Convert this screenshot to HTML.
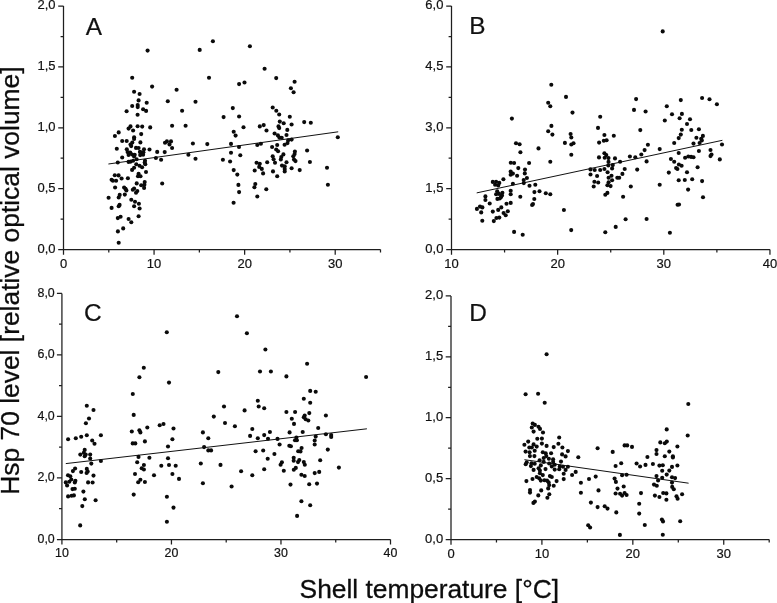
<!DOCTYPE html>
<html><head><meta charset="utf-8"><title>Hsp 70 level vs shell temperature</title>
<style>
html,body{margin:0;padding:0;background:#fff;}
body{width:777px;height:603px;overflow:hidden;}
svg{display:block;font-family:"Liberation Sans",sans-serif;will-change:transform;}
</style></head>
<body>
<svg width="777" height="603" viewBox="0 0 777 603">
<rect width="777" height="603" fill="#fff"/>
<g fill="none" stroke="#1e1e1e" stroke-width="1.25">
<path d="M63.5 6.07V254.8M58.2 249.5H380.5" />
<path d="M63.5 219.07h-2.9M63.5 188.64h-5.3M63.5 158.21h-2.9M63.5 127.78h-5.3M63.5 97.36h-2.9M63.5 66.93h-5.3M63.5 36.50h-2.9M63.5 6.07h-5.3M108.79 249.5v2.9M154.07 249.5v5.3M199.36 249.5v2.9M244.64 249.5v5.3M289.93 249.5v2.9M335.21 249.5v5.3M380.50 249.5v2.9" />
<path d="M451.5 6.07V254.8M446.2 249.5H769.95" />
<path d="M451.5 219.07h-2.9M451.5 188.64h-5.3M451.5 158.21h-2.9M451.5 127.78h-5.3M451.5 97.36h-2.9M451.5 66.93h-5.3M451.5 36.50h-2.9M451.5 6.07h-5.3M504.57 249.5v2.9M557.65 249.5v5.3M610.73 249.5v2.9M663.80 249.5v5.3M716.88 249.5v2.9M769.95 249.5v5.3" />
<path d="M61.92 293.43V544.5M56.92 539.5H390.5" />
<path d="M61.92 508.74h-2.9M61.92 477.98h-5.0M61.92 447.22h-2.9M61.92 416.47h-5.0M61.92 385.71h-2.9M61.92 354.95h-5.0M61.92 324.19h-2.9M61.92 293.43h-5.0M116.68 539.5v2.9M171.45 539.5v5.0M226.21 539.5v2.9M280.97 539.5v5.0M335.74 539.5v2.9M390.50 539.5v5.0" />
<path d="M451.0 295.94V544.8M445.7 539.5H769.2" />
<path d="M451.0 509.06h-2.9M451.0 478.61h-5.3M451.0 448.16h-2.9M451.0 417.72h-5.3M451.0 387.27h-2.9M451.0 356.83h-5.3M451.0 326.38h-2.9M451.0 295.94h-5.3M496.46 539.5v2.9M541.91 539.5v5.3M587.37 539.5v2.9M632.83 539.5v5.3M678.29 539.5v2.9M723.74 539.5v5.3M769.20 539.5v2.9" />
</g>
<g fill="none" stroke="#111" stroke-width="1.0">
<path d="M108.4 164L338.2 131.8M476.7 192.9L722.4 140.3M65.8 463.6L366.9 428.8M524.4 459.7L688.6 483.2" />
</g>
<g fill="#111" stroke="#111" stroke-width="0.2">
<g font-size="13.4">
<text transform="translate(55.60 252.70) scale(0.97 1)" text-anchor="end">0,0</text>
<text transform="translate(55.60 191.84) scale(0.97 1)" text-anchor="end">0,5</text>
<text transform="translate(55.60 130.98) scale(0.97 1)" text-anchor="end">1,0</text>
<text transform="translate(55.60 70.13) scale(0.97 1)" text-anchor="end">1,5</text>
<text transform="translate(55.60 9.27) scale(0.97 1)" text-anchor="end">2,0</text>
<text transform="translate(63.50 268.30) scale(0.97 1)" text-anchor="middle">0</text>
<text transform="translate(154.07 268.30) scale(0.97 1)" text-anchor="middle">10</text>
<text transform="translate(244.64 268.30) scale(0.97 1)" text-anchor="middle">20</text>
<text transform="translate(335.21 268.30) scale(0.97 1)" text-anchor="middle">30</text>
</g>
<text x="85.7" y="35.05" font-size="24.4">A</text>
<g font-size="13.4">
<text transform="translate(443.40 252.70) scale(0.97 1)" text-anchor="end">0,0</text>
<text transform="translate(443.40 191.84) scale(0.97 1)" text-anchor="end">1,5</text>
<text transform="translate(443.40 130.98) scale(0.97 1)" text-anchor="end">3,0</text>
<text transform="translate(443.40 70.13) scale(0.97 1)" text-anchor="end">4,5</text>
<text transform="translate(443.40 9.27) scale(0.97 1)" text-anchor="end">6,0</text>
<text transform="translate(451.50 268.30) scale(0.97 1)" text-anchor="middle">10</text>
<text transform="translate(557.65 268.30) scale(0.97 1)" text-anchor="middle">20</text>
<text transform="translate(663.80 268.30) scale(0.97 1)" text-anchor="middle">30</text>
<text transform="translate(769.95 268.30) scale(0.97 1)" text-anchor="middle">40</text>
</g>
<text x="469.3" y="34.15" font-size="24.4">B</text>
<g font-size="12.4">
<text transform="translate(54.72 542.95) scale(1 1)" text-anchor="end">0,0</text>
<text transform="translate(54.72 481.43) scale(1 1)" text-anchor="end">2,0</text>
<text transform="translate(54.72 419.92) scale(1 1)" text-anchor="end">4,0</text>
<text transform="translate(54.72 358.40) scale(1 1)" text-anchor="end">6,0</text>
<text transform="translate(54.72 296.88) scale(1 1)" text-anchor="end">8,0</text>
<text transform="translate(61.92 556.70) scale(1 1)" text-anchor="middle">10</text>
<text transform="translate(171.45 556.70) scale(1 1)" text-anchor="middle">20</text>
<text transform="translate(280.97 556.70) scale(1 1)" text-anchor="middle">30</text>
<text transform="translate(390.50 556.70) scale(1 1)" text-anchor="middle">40</text>
</g>
<text x="84.1" y="320.85" font-size="24.4">C</text>
<g font-size="13.4">
<text transform="translate(443.15 542.70) scale(0.97 1)" text-anchor="end">0,0</text>
<text transform="translate(443.15 481.81) scale(0.97 1)" text-anchor="end">0,5</text>
<text transform="translate(443.15 420.92) scale(0.97 1)" text-anchor="end">1,0</text>
<text transform="translate(443.15 360.03) scale(0.97 1)" text-anchor="end">1,5</text>
<text transform="translate(443.15 299.14) scale(0.97 1)" text-anchor="end">2,0</text>
<text transform="translate(451.00 558.30) scale(0.97 1)" text-anchor="middle">0</text>
<text transform="translate(541.91 558.30) scale(0.97 1)" text-anchor="middle">10</text>
<text transform="translate(632.83 558.30) scale(0.97 1)" text-anchor="middle">20</text>
<text transform="translate(723.74 558.30) scale(0.97 1)" text-anchor="middle">30</text>
</g>
<text x="469.35" y="321.15" font-size="24.4">D</text>
</g>
<g fill="#0c0c0c" stroke="#0c0c0c" stroke-width="0.3">
<text x="429.3" y="597.7" text-anchor="middle" font-size="26.35">Shell temperature [°C]</text>
<text transform="translate(18.9 280.6) rotate(-90)" text-anchor="middle" font-size="26.4">Hsp 70 level [relative optical volume]</text>
</g>
<g fill="#0a0a0a">
<circle cx="147.6" cy="50.6" r="2.05"/><circle cx="199.7" cy="49.9" r="2.05"/><circle cx="132.2" cy="77.7" r="2.05"/><circle cx="152.1" cy="86.6" r="2.05"/><circle cx="176.6" cy="89.8" r="2.05"/><circle cx="134.1" cy="91.8" r="2.05"/><circle cx="139.6" cy="94.0" r="2.05"/><circle cx="138.6" cy="100.4" r="2.05"/><circle cx="212.9" cy="41.2" r="2.05"/><circle cx="249.9" cy="46.3" r="2.05"/><circle cx="264.6" cy="68.7" r="2.05"/><circle cx="209.0" cy="77.7" r="2.05"/><circle cx="276.2" cy="78.1" r="2.05"/><circle cx="244.5" cy="82.5" r="2.05"/><circle cx="239.1" cy="84.1" r="2.05"/><circle cx="294.6" cy="81.7" r="2.05"/><circle cx="290.9" cy="88.3" r="2.05"/><circle cx="293.6" cy="92.3" r="2.05"/><circle cx="146.7" cy="102.8" r="2.05"/><circle cx="167.8" cy="101.3" r="2.05"/><circle cx="195.5" cy="101.8" r="2.05"/><circle cx="132.2" cy="106.0" r="2.05"/><circle cx="137.7" cy="105.1" r="2.05"/><circle cx="137.7" cy="107.1" r="2.05"/><circle cx="143.1" cy="109.3" r="2.05"/><circle cx="146.1" cy="110.9" r="2.05"/><circle cx="126.6" cy="111.3" r="2.05"/><circle cx="137.6" cy="114.8" r="2.05"/><circle cx="182.1" cy="110.8" r="2.05"/><circle cx="172.1" cy="125.7" r="2.05"/><circle cx="185.6" cy="125.7" r="2.05"/><circle cx="130.5" cy="126.4" r="2.05"/><circle cx="128.6" cy="128.6" r="2.05"/><circle cx="137.6" cy="126.3" r="2.05"/><circle cx="142.2" cy="126.6" r="2.05"/><circle cx="150.2" cy="127.4" r="2.05"/><circle cx="133.1" cy="130.5" r="2.05"/><circle cx="118.7" cy="132.4" r="2.05"/><circle cx="114.9" cy="136.0" r="2.05"/><circle cx="141.2" cy="134.1" r="2.05"/><circle cx="134.1" cy="137.3" r="2.05"/><circle cx="134.1" cy="139.0" r="2.05"/><circle cx="165.0" cy="142.7" r="2.05"/><circle cx="166.9" cy="141.4" r="2.05"/><circle cx="171.0" cy="141.4" r="2.05"/><circle cx="169.5" cy="144.4" r="2.05"/><circle cx="172.1" cy="148.0" r="2.05"/><circle cx="192.9" cy="143.5" r="2.05"/><circle cx="164.7" cy="152.1" r="2.05"/><circle cx="188.4" cy="154.7" r="2.05"/><circle cx="195.5" cy="158.8" r="2.05"/><circle cx="161.1" cy="159.8" r="2.05"/><circle cx="122.2" cy="141.0" r="2.05"/><circle cx="126.7" cy="141.0" r="2.05"/><circle cx="140.4" cy="142.4" r="2.05"/><circle cx="132.3" cy="142.6" r="2.05"/><circle cx="130.5" cy="144.5" r="2.05"/><circle cx="131.2" cy="146.1" r="2.05"/><circle cx="116.8" cy="148.8" r="2.05"/><circle cx="126.8" cy="149.3" r="2.05"/><circle cx="136.0" cy="147.9" r="2.05"/><circle cx="138.6" cy="148.0" r="2.05"/><circle cx="144.0" cy="149.3" r="2.05"/><circle cx="149.5" cy="149.5" r="2.05"/><circle cx="157.2" cy="151.9" r="2.05"/><circle cx="127.6" cy="152.1" r="2.05"/><circle cx="130.2" cy="152.5" r="2.05"/><circle cx="128.6" cy="154.9" r="2.05"/><circle cx="132.1" cy="154.5" r="2.05"/><circle cx="134.7" cy="154.7" r="2.05"/><circle cx="134.1" cy="156.4" r="2.05"/><circle cx="139.9" cy="151.9" r="2.05"/><circle cx="141.5" cy="152.5" r="2.05"/><circle cx="143.4" cy="152.2" r="2.05"/><circle cx="140.2" cy="155.1" r="2.05"/><circle cx="143.1" cy="154.8" r="2.05"/><circle cx="122.2" cy="157.5" r="2.05"/><circle cx="136.6" cy="159.3" r="2.05"/><circle cx="155.9" cy="158.0" r="2.05"/><circle cx="117.8" cy="162.5" r="2.05"/><circle cx="128.6" cy="161.9" r="2.05"/><circle cx="130.7" cy="161.6" r="2.05"/><circle cx="133.1" cy="160.7" r="2.05"/><circle cx="145.0" cy="160.7" r="2.05"/><circle cx="144.7" cy="162.5" r="2.05"/><circle cx="145.3" cy="164.3" r="2.05"/><circle cx="136.3" cy="164.3" r="2.05"/><circle cx="139.5" cy="165.7" r="2.05"/><circle cx="142.1" cy="167.3" r="2.05"/><circle cx="134.1" cy="167.7" r="2.05"/><circle cx="132.1" cy="169.9" r="2.05"/><circle cx="146.0" cy="172.0" r="2.05"/><circle cx="138.6" cy="173.8" r="2.05"/><circle cx="114.8" cy="175.2" r="2.05"/><circle cx="118.6" cy="175.4" r="2.05"/><circle cx="232.8" cy="108.1" r="2.05"/><circle cx="223.6" cy="117.1" r="2.05"/><circle cx="239.1" cy="116.5" r="2.05"/><circle cx="272.7" cy="107.5" r="2.05"/><circle cx="276.3" cy="110.7" r="2.05"/><circle cx="279.2" cy="114.5" r="2.05"/><circle cx="289.8" cy="116.7" r="2.05"/><circle cx="279.8" cy="121.6" r="2.05"/><circle cx="283.7" cy="123.2" r="2.05"/><circle cx="278.5" cy="126.4" r="2.05"/><circle cx="279.2" cy="128.1" r="2.05"/><circle cx="291.6" cy="124.5" r="2.05"/><circle cx="243.5" cy="127.3" r="2.05"/><circle cx="259.8" cy="126.4" r="2.05"/><circle cx="263.7" cy="125.1" r="2.05"/><circle cx="266.5" cy="130.5" r="2.05"/><circle cx="287.3" cy="129.9" r="2.05"/><circle cx="233.7" cy="131.8" r="2.05"/><circle cx="235.6" cy="135.6" r="2.05"/><circle cx="274.6" cy="133.5" r="2.05"/><circle cx="277.9" cy="135.4" r="2.05"/><circle cx="286.5" cy="135.0" r="2.05"/><circle cx="279.4" cy="137.6" r="2.05"/><circle cx="281.7" cy="137.7" r="2.05"/><circle cx="207.3" cy="144.1" r="2.05"/><circle cx="231.0" cy="143.9" r="2.05"/><circle cx="288.2" cy="140.3" r="2.05"/><circle cx="291.6" cy="139.6" r="2.05"/><circle cx="287.5" cy="143.1" r="2.05"/><circle cx="284.6" cy="144.7" r="2.05"/><circle cx="277.2" cy="145.0" r="2.05"/><circle cx="239.0" cy="147.0" r="2.05"/><circle cx="257.3" cy="145.0" r="2.05"/><circle cx="260.9" cy="143.8" r="2.05"/><circle cx="272.1" cy="147.0" r="2.05"/><circle cx="276.2" cy="149.5" r="2.05"/><circle cx="278.1" cy="151.2" r="2.05"/><circle cx="294.9" cy="151.5" r="2.05"/><circle cx="231.0" cy="152.8" r="2.05"/><circle cx="240.3" cy="155.3" r="2.05"/><circle cx="272.7" cy="156.2" r="2.05"/><circle cx="273.6" cy="159.2" r="2.05"/><circle cx="283.4" cy="154.4" r="2.05"/><circle cx="281.3" cy="157.0" r="2.05"/><circle cx="280.8" cy="159.5" r="2.05"/><circle cx="293.3" cy="156.2" r="2.05"/><circle cx="294.6" cy="154.1" r="2.05"/><circle cx="294.0" cy="159.6" r="2.05"/><circle cx="295.5" cy="161.1" r="2.05"/><circle cx="222.9" cy="159.8" r="2.05"/><circle cx="230.1" cy="161.5" r="2.05"/><circle cx="256.6" cy="162.7" r="2.05"/><circle cx="259.8" cy="163.7" r="2.05"/><circle cx="267.2" cy="162.2" r="2.05"/><circle cx="275.0" cy="162.7" r="2.05"/><circle cx="286.5" cy="162.2" r="2.05"/><circle cx="282.0" cy="165.6" r="2.05"/><circle cx="284.7" cy="166.3" r="2.05"/><circle cx="259.2" cy="166.9" r="2.05"/><circle cx="261.8" cy="168.9" r="2.05"/><circle cx="284.7" cy="168.9" r="2.05"/><circle cx="291.6" cy="168.2" r="2.05"/><circle cx="233.7" cy="170.1" r="2.05"/><circle cx="254.7" cy="170.5" r="2.05"/><circle cx="273.0" cy="171.4" r="2.05"/><circle cx="284.7" cy="171.4" r="2.05"/><circle cx="263.1" cy="173.4" r="2.05"/><circle cx="237.3" cy="174.6" r="2.05"/><circle cx="299.7" cy="170.1" r="2.05"/><circle cx="304.2" cy="122.1" r="2.05"/><circle cx="310.8" cy="122.8" r="2.05"/><circle cx="337.8" cy="137.2" r="2.05"/><circle cx="307.1" cy="150.5" r="2.05"/><circle cx="309.9" cy="162.0" r="2.05"/><circle cx="327.0" cy="167.8" r="2.05"/><circle cx="121.6" cy="178.5" r="2.05"/><circle cx="127.9" cy="178.2" r="2.05"/><circle cx="138.0" cy="176.3" r="2.05"/><circle cx="140.5" cy="176.3" r="2.05"/><circle cx="111.6" cy="179.8" r="2.05"/><circle cx="112.9" cy="180.8" r="2.05"/><circle cx="116.1" cy="180.8" r="2.05"/><circle cx="136.7" cy="183.4" r="2.05"/><circle cx="144.7" cy="182.1" r="2.05"/><circle cx="162.2" cy="183.5" r="2.05"/><circle cx="141.2" cy="185.3" r="2.05"/><circle cx="144.4" cy="184.7" r="2.05"/><circle cx="115.1" cy="187.5" r="2.05"/><circle cx="124.1" cy="187.5" r="2.05"/><circle cx="125.5" cy="188.9" r="2.05"/><circle cx="126.4" cy="190.4" r="2.05"/><circle cx="144.1" cy="187.9" r="2.05"/><circle cx="134.1" cy="188.5" r="2.05"/><circle cx="132.8" cy="189.8" r="2.05"/><circle cx="137.3" cy="191.1" r="2.05"/><circle cx="136.0" cy="192.8" r="2.05"/><circle cx="124.8" cy="194.6" r="2.05"/><circle cx="119.7" cy="194.9" r="2.05"/><circle cx="118.7" cy="197.5" r="2.05"/><circle cx="108.6" cy="197.8" r="2.05"/><circle cx="131.3" cy="199.8" r="2.05"/><circle cx="135.0" cy="201.8" r="2.05"/><circle cx="138.9" cy="203.7" r="2.05"/><circle cx="119.6" cy="204.9" r="2.05"/><circle cx="118.7" cy="206.3" r="2.05"/><circle cx="134.1" cy="206.3" r="2.05"/><circle cx="111.6" cy="207.9" r="2.05"/><circle cx="139.6" cy="208.5" r="2.05"/><circle cx="138.6" cy="216.2" r="2.05"/><circle cx="120.6" cy="216.8" r="2.05"/><circle cx="117.8" cy="218.1" r="2.05"/><circle cx="128.6" cy="219.0" r="2.05"/><circle cx="131.3" cy="222.2" r="2.05"/><circle cx="123.2" cy="228.4" r="2.05"/><circle cx="117.9" cy="231.4" r="2.05"/><circle cx="118.7" cy="242.8" r="2.05"/><circle cx="277.2" cy="176.3" r="2.05"/><circle cx="238.4" cy="184.9" r="2.05"/><circle cx="255.3" cy="184.0" r="2.05"/><circle cx="254.4" cy="187.2" r="2.05"/><circle cx="266.3" cy="189.2" r="2.05"/><circle cx="239.1" cy="192.1" r="2.05"/><circle cx="257.3" cy="196.5" r="2.05"/><circle cx="233.6" cy="202.8" r="2.05"/><circle cx="327.9" cy="184.7" r="2.05"/><circle cx="551.3" cy="84.8" r="2.05"/><circle cx="662.7" cy="31.4" r="2.05"/><circle cx="548.2" cy="102.7" r="2.05"/><circle cx="550.3" cy="106.2" r="2.05"/><circle cx="511.9" cy="118.6" r="2.05"/><circle cx="551.4" cy="125.9" r="2.05"/><circle cx="548.2" cy="131.3" r="2.05"/><circle cx="552.4" cy="134.6" r="2.05"/><circle cx="516.0" cy="143.3" r="2.05"/><circle cx="519.6" cy="144.3" r="2.05"/><circle cx="538.5" cy="148.4" r="2.05"/><circle cx="520.4" cy="152.3" r="2.05"/><circle cx="510.8" cy="162.8" r="2.05"/><circle cx="514.1" cy="163.0" r="2.05"/><circle cx="529.1" cy="163.0" r="2.05"/><circle cx="550.3" cy="161.8" r="2.05"/><circle cx="518.3" cy="168.1" r="2.05"/><circle cx="525.0" cy="169.6" r="2.05"/><circle cx="566.0" cy="96.9" r="2.05"/><circle cx="636.1" cy="99.1" r="2.05"/><circle cx="572.5" cy="112.6" r="2.05"/><circle cx="634.0" cy="109.9" r="2.05"/><circle cx="645.6" cy="111.5" r="2.05"/><circle cx="600.2" cy="116.8" r="2.05"/><circle cx="598.0" cy="127.9" r="2.05"/><circle cx="640.3" cy="130.1" r="2.05"/><circle cx="570.6" cy="134.0" r="2.05"/><circle cx="571.3" cy="137.5" r="2.05"/><circle cx="604.4" cy="135.0" r="2.05"/><circle cx="613.8" cy="135.7" r="2.05"/><circle cx="603.8" cy="140.7" r="2.05"/><circle cx="606.6" cy="140.3" r="2.05"/><circle cx="564.9" cy="142.9" r="2.05"/><circle cx="573.5" cy="143.3" r="2.05"/><circle cx="571.3" cy="144.5" r="2.05"/><circle cx="599.1" cy="142.6" r="2.05"/><circle cx="647.9" cy="144.8" r="2.05"/><circle cx="659.7" cy="149.1" r="2.05"/><circle cx="644.6" cy="150.1" r="2.05"/><circle cx="571.3" cy="154.7" r="2.05"/><circle cx="604.4" cy="153.3" r="2.05"/><circle cx="606.3" cy="155.1" r="2.05"/><circle cx="641.3" cy="154.5" r="2.05"/><circle cx="599.0" cy="157.4" r="2.05"/><circle cx="604.7" cy="157.8" r="2.05"/><circle cx="608.5" cy="158.1" r="2.05"/><circle cx="615.0" cy="158.4" r="2.05"/><circle cx="629.9" cy="156.5" r="2.05"/><circle cx="635.3" cy="157.2" r="2.05"/><circle cx="608.5" cy="161.9" r="2.05"/><circle cx="620.1" cy="161.7" r="2.05"/><circle cx="646.6" cy="161.4" r="2.05"/><circle cx="608.3" cy="165.5" r="2.05"/><circle cx="612.8" cy="165.1" r="2.05"/><circle cx="590.5" cy="169.4" r="2.05"/><circle cx="594.7" cy="170.0" r="2.05"/><circle cx="600.2" cy="170.0" r="2.05"/><circle cx="604.4" cy="169.0" r="2.05"/><circle cx="612.1" cy="168.4" r="2.05"/><circle cx="624.7" cy="169.0" r="2.05"/><circle cx="637.2" cy="169.6" r="2.05"/><circle cx="680.8" cy="100.1" r="2.05"/><circle cx="702.1" cy="98.0" r="2.05"/><circle cx="709.5" cy="99.2" r="2.05"/><circle cx="716.9" cy="104.3" r="2.05"/><circle cx="666.8" cy="106.2" r="2.05"/><circle cx="672.0" cy="114.3" r="2.05"/><circle cx="681.9" cy="113.9" r="2.05"/><circle cx="679.6" cy="118.3" r="2.05"/><circle cx="690.0" cy="119.2" r="2.05"/><circle cx="664.8" cy="120.5" r="2.05"/><circle cx="687.0" cy="124.0" r="2.05"/><circle cx="681.8" cy="129.7" r="2.05"/><circle cx="691.3" cy="130.0" r="2.05"/><circle cx="698.9" cy="129.2" r="2.05"/><circle cx="680.8" cy="134.6" r="2.05"/><circle cx="678.7" cy="138.1" r="2.05"/><circle cx="702.9" cy="135.9" r="2.05"/><circle cx="696.4" cy="137.7" r="2.05"/><circle cx="701.2" cy="138.8" r="2.05"/><circle cx="701.8" cy="140.4" r="2.05"/><circle cx="674.2" cy="143.0" r="2.05"/><circle cx="693.5" cy="143.6" r="2.05"/><circle cx="699.6" cy="143.0" r="2.05"/><circle cx="722.0" cy="144.5" r="2.05"/><circle cx="678.7" cy="153.0" r="2.05"/><circle cx="698.9" cy="151.0" r="2.05"/><circle cx="710.5" cy="150.0" r="2.05"/><circle cx="711.5" cy="154.5" r="2.05"/><circle cx="710.5" cy="156.1" r="2.05"/><circle cx="685.1" cy="157.7" r="2.05"/><circle cx="688.3" cy="156.5" r="2.05"/><circle cx="691.1" cy="156.9" r="2.05"/><circle cx="693.5" cy="157.2" r="2.05"/><circle cx="670.9" cy="159.0" r="2.05"/><circle cx="674.2" cy="161.7" r="2.05"/><circle cx="719.8" cy="159.4" r="2.05"/><circle cx="678.9" cy="164.5" r="2.05"/><circle cx="681.6" cy="165.8" r="2.05"/><circle cx="676.1" cy="168.0" r="2.05"/><circle cx="677.4" cy="169.0" r="2.05"/><circle cx="697.6" cy="167.3" r="2.05"/><circle cx="524.8" cy="173.4" r="2.05"/><circle cx="510.7" cy="171.5" r="2.05"/><circle cx="512.9" cy="173.6" r="2.05"/><circle cx="510.7" cy="174.8" r="2.05"/><circle cx="517.1" cy="175.7" r="2.05"/><circle cx="526.9" cy="178.0" r="2.05"/><circle cx="523.7" cy="180.0" r="2.05"/><circle cx="523.8" cy="183.1" r="2.05"/><circle cx="503.4" cy="179.3" r="2.05"/><circle cx="492.8" cy="181.9" r="2.05"/><circle cx="496.1" cy="181.7" r="2.05"/><circle cx="499.3" cy="182.9" r="2.05"/><circle cx="495.1" cy="184.8" r="2.05"/><circle cx="498.2" cy="185.4" r="2.05"/><circle cx="512.9" cy="183.8" r="2.05"/><circle cx="529.5" cy="185.8" r="2.05"/><circle cx="497.2" cy="191.2" r="2.05"/><circle cx="496.1" cy="194.3" r="2.05"/><circle cx="499.0" cy="193.9" r="2.05"/><circle cx="502.4" cy="192.7" r="2.05"/><circle cx="502.0" cy="195.4" r="2.05"/><circle cx="500.9" cy="197.3" r="2.05"/><circle cx="497.4" cy="198.9" r="2.05"/><circle cx="499.7" cy="198.5" r="2.05"/><circle cx="510.7" cy="190.8" r="2.05"/><circle cx="510.7" cy="194.3" r="2.05"/><circle cx="520.3" cy="196.7" r="2.05"/><circle cx="485.4" cy="196.4" r="2.05"/><circle cx="485.4" cy="200.0" r="2.05"/><circle cx="489.7" cy="203.5" r="2.05"/><circle cx="510.7" cy="202.9" r="2.05"/><circle cx="506.5" cy="203.8" r="2.05"/><circle cx="480.0" cy="206.6" r="2.05"/><circle cx="482.4" cy="207.4" r="2.05"/><circle cx="476.9" cy="208.9" r="2.05"/><circle cx="501.3" cy="207.4" r="2.05"/><circle cx="498.2" cy="209.9" r="2.05"/><circle cx="492.8" cy="211.6" r="2.05"/><circle cx="481.2" cy="212.4" r="2.05"/><circle cx="507.8" cy="211.2" r="2.05"/><circle cx="503.6" cy="213.0" r="2.05"/><circle cx="535.3" cy="184.7" r="2.05"/><circle cx="534.4" cy="192.1" r="2.05"/><circle cx="539.5" cy="191.2" r="2.05"/><circle cx="545.8" cy="193.2" r="2.05"/><circle cx="550.3" cy="194.2" r="2.05"/><circle cx="534.3" cy="199.0" r="2.05"/><circle cx="533.0" cy="204.1" r="2.05"/><circle cx="532.1" cy="205.0" r="2.05"/><circle cx="505.7" cy="215.3" r="2.05"/><circle cx="496.4" cy="218.0" r="2.05"/><circle cx="499.3" cy="217.6" r="2.05"/><circle cx="482.3" cy="220.8" r="2.05"/><circle cx="493.8" cy="221.1" r="2.05"/><circle cx="514.1" cy="231.9" r="2.05"/><circle cx="522.7" cy="234.7" r="2.05"/><circle cx="607.6" cy="172.3" r="2.05"/><circle cx="590.5" cy="174.5" r="2.05"/><circle cx="597.1" cy="176.0" r="2.05"/><circle cx="622.4" cy="173.9" r="2.05"/><circle cx="611.5" cy="175.8" r="2.05"/><circle cx="608.6" cy="177.7" r="2.05"/><circle cx="617.3" cy="177.7" r="2.05"/><circle cx="619.2" cy="177.7" r="2.05"/><circle cx="612.1" cy="180.3" r="2.05"/><circle cx="594.4" cy="181.8" r="2.05"/><circle cx="598.2" cy="182.5" r="2.05"/><circle cx="608.6" cy="182.2" r="2.05"/><circle cx="607.4" cy="185.2" r="2.05"/><circle cx="610.6" cy="186.1" r="2.05"/><circle cx="593.7" cy="186.5" r="2.05"/><circle cx="630.8" cy="186.5" r="2.05"/><circle cx="607.4" cy="192.9" r="2.05"/><circle cx="605.3" cy="194.7" r="2.05"/><circle cx="623.1" cy="196.8" r="2.05"/><circle cx="563.9" cy="210.0" r="2.05"/><circle cx="625.6" cy="219.3" r="2.05"/><circle cx="646.6" cy="219.0" r="2.05"/><circle cx="615.7" cy="226.9" r="2.05"/><circle cx="571.2" cy="230.1" r="2.05"/><circle cx="605.3" cy="232.2" r="2.05"/><circle cx="659.7" cy="184.8" r="2.05"/><circle cx="668.8" cy="172.6" r="2.05"/><circle cx="687.0" cy="172.3" r="2.05"/><circle cx="678.7" cy="180.3" r="2.05"/><circle cx="684.8" cy="180.0" r="2.05"/><circle cx="692.2" cy="179.3" r="2.05"/><circle cx="702.1" cy="181.1" r="2.05"/><circle cx="688.1" cy="189.6" r="2.05"/><circle cx="703.0" cy="197.2" r="2.05"/><circle cx="677.6" cy="204.7" r="2.05"/><circle cx="679.0" cy="204.5" r="2.05"/><circle cx="669.9" cy="232.8" r="2.05"/><circle cx="143.8" cy="367.7" r="2.05"/><circle cx="139.4" cy="377.3" r="2.05"/><circle cx="237.0" cy="316.2" r="2.05"/><circle cx="166.8" cy="332.2" r="2.05"/><circle cx="246.9" cy="333.3" r="2.05"/><circle cx="218.3" cy="372.1" r="2.05"/><circle cx="260.0" cy="371.5" r="2.05"/><circle cx="265.4" cy="349.5" r="2.05"/><circle cx="307.1" cy="363.7" r="2.05"/><circle cx="270.9" cy="371.5" r="2.05"/><circle cx="286.4" cy="376.4" r="2.05"/><circle cx="366.1" cy="377.0" r="2.05"/><circle cx="132.8" cy="394.0" r="2.05"/><circle cx="86.8" cy="405.7" r="2.05"/><circle cx="93.5" cy="410.0" r="2.05"/><circle cx="133.7" cy="414.9" r="2.05"/><circle cx="89.0" cy="418.5" r="2.05"/><circle cx="85.9" cy="423.2" r="2.05"/><circle cx="159.7" cy="425.3" r="2.05"/><circle cx="147.3" cy="427.5" r="2.05"/><circle cx="131.8" cy="431.5" r="2.05"/><circle cx="139.4" cy="430.2" r="2.05"/><circle cx="140.4" cy="432.4" r="2.05"/><circle cx="86.8" cy="435.2" r="2.05"/><circle cx="100.9" cy="435.2" r="2.05"/><circle cx="81.2" cy="436.8" r="2.05"/><circle cx="75.8" cy="438.2" r="2.05"/><circle cx="68.1" cy="439.2" r="2.05"/><circle cx="92.2" cy="440.5" r="2.05"/><circle cx="94.5" cy="443.7" r="2.05"/><circle cx="144.9" cy="441.4" r="2.05"/><circle cx="132.7" cy="443.4" r="2.05"/><circle cx="135.3" cy="443.4" r="2.05"/><circle cx="84.7" cy="449.9" r="2.05"/><circle cx="83.8" cy="452.7" r="2.05"/><circle cx="80.3" cy="454.6" r="2.05"/><circle cx="85.7" cy="454.6" r="2.05"/><circle cx="90.2" cy="454.6" r="2.05"/><circle cx="169.0" cy="382.6" r="2.05"/><circle cx="257.8" cy="400.8" r="2.05"/><circle cx="224.0" cy="406.5" r="2.05"/><circle cx="258.7" cy="406.5" r="2.05"/><circle cx="244.6" cy="410.4" r="2.05"/><circle cx="213.8" cy="416.6" r="2.05"/><circle cx="163.5" cy="424.0" r="2.05"/><circle cx="225.0" cy="423.0" r="2.05"/><circle cx="234.9" cy="426.3" r="2.05"/><circle cx="173.5" cy="428.5" r="2.05"/><circle cx="252.3" cy="429.0" r="2.05"/><circle cx="202.9" cy="432.4" r="2.05"/><circle cx="250.1" cy="435.9" r="2.05"/><circle cx="208.3" cy="438.3" r="2.05"/><circle cx="257.8" cy="438.2" r="2.05"/><circle cx="172.4" cy="439.2" r="2.05"/><circle cx="168.0" cy="446.5" r="2.05"/><circle cx="204.1" cy="447.1" r="2.05"/><circle cx="208.3" cy="450.4" r="2.05"/><circle cx="211.1" cy="450.4" r="2.05"/><circle cx="255.6" cy="451.2" r="2.05"/><circle cx="310.2" cy="390.9" r="2.05"/><circle cx="315.7" cy="391.8" r="2.05"/><circle cx="303.8" cy="398.7" r="2.05"/><circle cx="310.2" cy="402.7" r="2.05"/><circle cx="264.2" cy="408.2" r="2.05"/><circle cx="286.4" cy="412.0" r="2.05"/><circle cx="295.1" cy="412.0" r="2.05"/><circle cx="309.3" cy="413.1" r="2.05"/><circle cx="325.9" cy="415.5" r="2.05"/><circle cx="304.7" cy="415.6" r="2.05"/><circle cx="303.8" cy="417.3" r="2.05"/><circle cx="305.7" cy="419.3" r="2.05"/><circle cx="308.3" cy="420.5" r="2.05"/><circle cx="291.8" cy="418.7" r="2.05"/><circle cx="294.0" cy="423.9" r="2.05"/><circle cx="318.2" cy="428.0" r="2.05"/><circle cx="269.9" cy="432.0" r="2.05"/><circle cx="289.6" cy="432.4" r="2.05"/><circle cx="302.7" cy="432.0" r="2.05"/><circle cx="264.2" cy="435.1" r="2.05"/><circle cx="325.9" cy="434.2" r="2.05"/><circle cx="331.2" cy="435.0" r="2.05"/><circle cx="331.2" cy="436.9" r="2.05"/><circle cx="315.7" cy="436.6" r="2.05"/><circle cx="296.4" cy="437.5" r="2.05"/><circle cx="268.0" cy="438.7" r="2.05"/><circle cx="277.5" cy="438.9" r="2.05"/><circle cx="295.0" cy="440.2" r="2.05"/><circle cx="296.9" cy="440.2" r="2.05"/><circle cx="314.7" cy="440.5" r="2.05"/><circle cx="279.6" cy="444.5" r="2.05"/><circle cx="314.7" cy="444.5" r="2.05"/><circle cx="289.3" cy="445.8" r="2.05"/><circle cx="290.9" cy="446.3" r="2.05"/><circle cx="301.6" cy="448.0" r="2.05"/><circle cx="327.8" cy="449.6" r="2.05"/><circle cx="263.2" cy="450.5" r="2.05"/><circle cx="298.2" cy="451.2" r="2.05"/><circle cx="300.5" cy="451.4" r="2.05"/><circle cx="274.4" cy="454.0" r="2.05"/><circle cx="84.7" cy="456.3" r="2.05"/><circle cx="90.2" cy="458.5" r="2.05"/><circle cx="138.5" cy="456.9" r="2.05"/><circle cx="149.4" cy="457.8" r="2.05"/><circle cx="100.9" cy="461.0" r="2.05"/><circle cx="91.3" cy="463.6" r="2.05"/><circle cx="137.2" cy="462.3" r="2.05"/><circle cx="143.9" cy="465.0" r="2.05"/><circle cx="75.1" cy="468.5" r="2.05"/><circle cx="72.9" cy="471.1" r="2.05"/><circle cx="86.8" cy="468.9" r="2.05"/><circle cx="87.7" cy="471.5" r="2.05"/><circle cx="86.6" cy="473.0" r="2.05"/><circle cx="81.2" cy="472.0" r="2.05"/><circle cx="141.7" cy="468.3" r="2.05"/><circle cx="143.9" cy="469.5" r="2.05"/><circle cx="135.0" cy="474.0" r="2.05"/><circle cx="93.5" cy="475.6" r="2.05"/><circle cx="154.0" cy="475.3" r="2.05"/><circle cx="68.0" cy="475.3" r="2.05"/><circle cx="70.3" cy="476.2" r="2.05"/><circle cx="71.3" cy="479.5" r="2.05"/><circle cx="69.3" cy="481.8" r="2.05"/><circle cx="65.8" cy="482.4" r="2.05"/><circle cx="75.4" cy="480.7" r="2.05"/><circle cx="74.8" cy="482.4" r="2.05"/><circle cx="67.1" cy="485.5" r="2.05"/><circle cx="88.1" cy="482.4" r="2.05"/><circle cx="92.6" cy="482.5" r="2.05"/><circle cx="140.4" cy="479.7" r="2.05"/><circle cx="138.2" cy="482.3" r="2.05"/><circle cx="144.9" cy="482.0" r="2.05"/><circle cx="72.5" cy="489.1" r="2.05"/><circle cx="74.8" cy="488.7" r="2.05"/><circle cx="83.4" cy="491.6" r="2.05"/><circle cx="68.1" cy="496.4" r="2.05"/><circle cx="71.6" cy="495.8" r="2.05"/><circle cx="73.9" cy="495.4" r="2.05"/><circle cx="133.7" cy="494.6" r="2.05"/><circle cx="84.8" cy="499.3" r="2.05"/><circle cx="95.6" cy="500.2" r="2.05"/><circle cx="82.3" cy="506.1" r="2.05"/><circle cx="80.2" cy="525.4" r="2.05"/><circle cx="168.0" cy="458.2" r="2.05"/><circle cx="161.3" cy="465.8" r="2.05"/><circle cx="169.0" cy="465.0" r="2.05"/><circle cx="175.7" cy="465.8" r="2.05"/><circle cx="200.8" cy="463.5" r="2.05"/><circle cx="220.5" cy="464.9" r="2.05"/><circle cx="241.1" cy="471.3" r="2.05"/><circle cx="252.3" cy="475.2" r="2.05"/><circle cx="172.4" cy="474.0" r="2.05"/><circle cx="179.0" cy="478.9" r="2.05"/><circle cx="202.9" cy="483.3" r="2.05"/><circle cx="231.6" cy="486.5" r="2.05"/><circle cx="166.9" cy="496.8" r="2.05"/><circle cx="173.5" cy="507.6" r="2.05"/><circle cx="166.9" cy="521.8" r="2.05"/><circle cx="267.7" cy="458.7" r="2.05"/><circle cx="293.7" cy="457.8" r="2.05"/><circle cx="293.7" cy="460.8" r="2.05"/><circle cx="299.3" cy="460.1" r="2.05"/><circle cx="298.0" cy="462.1" r="2.05"/><circle cx="303.8" cy="462.1" r="2.05"/><circle cx="304.8" cy="464.7" r="2.05"/><circle cx="281.9" cy="462.3" r="2.05"/><circle cx="280.6" cy="464.7" r="2.05"/><circle cx="320.2" cy="460.3" r="2.05"/><circle cx="338.9" cy="467.6" r="2.05"/><circle cx="264.2" cy="469.3" r="2.05"/><circle cx="283.8" cy="470.8" r="2.05"/><circle cx="295.8" cy="467.9" r="2.05"/><circle cx="293.8" cy="469.8" r="2.05"/><circle cx="301.4" cy="474.8" r="2.05"/><circle cx="304.7" cy="476.0" r="2.05"/><circle cx="314.7" cy="473.1" r="2.05"/><circle cx="319.2" cy="471.9" r="2.05"/><circle cx="290.5" cy="484.6" r="2.05"/><circle cx="309.2" cy="484.2" r="2.05"/><circle cx="317.0" cy="483.6" r="2.05"/><circle cx="301.4" cy="501.3" r="2.05"/><circle cx="310.2" cy="505.3" r="2.05"/><circle cx="297.1" cy="515.9" r="2.05"/><circle cx="546.6" cy="354.2" r="2.05"/><circle cx="525.6" cy="394.3" r="2.05"/><circle cx="538.1" cy="393.7" r="2.05"/><circle cx="544.7" cy="402.8" r="2.05"/><circle cx="688.3" cy="404.0" r="2.05"/><circle cx="532.7" cy="423.5" r="2.05"/><circle cx="534.9" cy="424.9" r="2.05"/><circle cx="531.8" cy="427.5" r="2.05"/><circle cx="538.5" cy="426.7" r="2.05"/><circle cx="540.0" cy="428.9" r="2.05"/><circle cx="533.6" cy="431.6" r="2.05"/><circle cx="543.0" cy="432.5" r="2.05"/><circle cx="537.3" cy="438.8" r="2.05"/><circle cx="541.9" cy="438.6" r="2.05"/><circle cx="559.2" cy="437.5" r="2.05"/><circle cx="528.2" cy="441.6" r="2.05"/><circle cx="541.9" cy="443.6" r="2.05"/><circle cx="558.4" cy="443.7" r="2.05"/><circle cx="524.4" cy="444.8" r="2.05"/><circle cx="533.6" cy="444.4" r="2.05"/><circle cx="536.7" cy="446.6" r="2.05"/><circle cx="546.6" cy="445.9" r="2.05"/><circle cx="553.7" cy="447.1" r="2.05"/><circle cx="562.4" cy="447.5" r="2.05"/><circle cx="529.3" cy="447.5" r="2.05"/><circle cx="531.8" cy="447.5" r="2.05"/><circle cx="525.6" cy="451.6" r="2.05"/><circle cx="534.7" cy="450.8" r="2.05"/><circle cx="567.9" cy="451.1" r="2.05"/><circle cx="529.6" cy="452.3" r="2.05"/><circle cx="542.8" cy="452.3" r="2.05"/><circle cx="545.7" cy="453.2" r="2.05"/><circle cx="551.1" cy="453.2" r="2.05"/><circle cx="562.1" cy="454.4" r="2.05"/><circle cx="565.6" cy="456.4" r="2.05"/><circle cx="529.9" cy="456.1" r="2.05"/><circle cx="534.4" cy="456.1" r="2.05"/><circle cx="546.3" cy="456.1" r="2.05"/><circle cx="543.7" cy="458.0" r="2.05"/><circle cx="539.6" cy="460.3" r="2.05"/><circle cx="543.7" cy="461.9" r="2.05"/><circle cx="548.9" cy="458.7" r="2.05"/><circle cx="553.1" cy="459.3" r="2.05"/><circle cx="553.1" cy="461.9" r="2.05"/><circle cx="549.2" cy="463.5" r="2.05"/><circle cx="551.8" cy="466.4" r="2.05"/><circle cx="554.7" cy="464.8" r="2.05"/><circle cx="561.0" cy="461.6" r="2.05"/><circle cx="559.8" cy="466.4" r="2.05"/><circle cx="559.2" cy="469.3" r="2.05"/><circle cx="554.7" cy="469.6" r="2.05"/><circle cx="563.0" cy="466.7" r="2.05"/><circle cx="565.6" cy="469.9" r="2.05"/><circle cx="567.9" cy="466.7" r="2.05"/><circle cx="526.7" cy="462.2" r="2.05"/><circle cx="525.7" cy="464.3" r="2.05"/><circle cx="531.5" cy="463.2" r="2.05"/><circle cx="534.7" cy="463.8" r="2.05"/><circle cx="530.9" cy="466.1" r="2.05"/><circle cx="540.8" cy="465.4" r="2.05"/><circle cx="538.6" cy="468.3" r="2.05"/><circle cx="539.9" cy="470.6" r="2.05"/><circle cx="539.9" cy="473.2" r="2.05"/><circle cx="533.6" cy="469.9" r="2.05"/><circle cx="545.5" cy="469.1" r="2.05"/><circle cx="542.8" cy="475.1" r="2.05"/><circle cx="563.7" cy="473.8" r="2.05"/><circle cx="549.9" cy="476.1" r="2.05"/><circle cx="551.8" cy="477.0" r="2.05"/><circle cx="536.7" cy="477.0" r="2.05"/><circle cx="539.2" cy="478.3" r="2.05"/><circle cx="532.5" cy="479.0" r="2.05"/><circle cx="526.4" cy="481.1" r="2.05"/><circle cx="540.8" cy="480.6" r="2.05"/><circle cx="544.4" cy="480.2" r="2.05"/><circle cx="547.0" cy="480.6" r="2.05"/><circle cx="548.6" cy="482.2" r="2.05"/><circle cx="549.2" cy="485.1" r="2.05"/><circle cx="553.7" cy="485.7" r="2.05"/><circle cx="556.6" cy="481.1" r="2.05"/><circle cx="563.7" cy="479.1" r="2.05"/><circle cx="530.0" cy="490.0" r="2.05"/><circle cx="530.0" cy="492.6" r="2.05"/><circle cx="541.2" cy="490.4" r="2.05"/><circle cx="538.3" cy="495.4" r="2.05"/><circle cx="549.3" cy="494.2" r="2.05"/><circle cx="547.4" cy="497.8" r="2.05"/><circle cx="534.9" cy="501.6" r="2.05"/><circle cx="533.4" cy="502.9" r="2.05"/><circle cx="548.2" cy="488.4" r="2.05"/><circle cx="660.3" cy="442.4" r="2.05"/><circle cx="624.6" cy="445.4" r="2.05"/><circle cx="627.2" cy="445.4" r="2.05"/><circle cx="632.0" cy="446.9" r="2.05"/><circle cx="597.6" cy="448.3" r="2.05"/><circle cx="612.7" cy="451.9" r="2.05"/><circle cx="656.5" cy="450.1" r="2.05"/><circle cx="656.5" cy="454.0" r="2.05"/><circle cx="578.3" cy="457.2" r="2.05"/><circle cx="647.4" cy="457.0" r="2.05"/><circle cx="621.2" cy="463.3" r="2.05"/><circle cx="615.6" cy="466.0" r="2.05"/><circle cx="636.6" cy="463.5" r="2.05"/><circle cx="640.1" cy="466.5" r="2.05"/><circle cx="645.5" cy="464.9" r="2.05"/><circle cx="652.9" cy="464.0" r="2.05"/><circle cx="659.4" cy="465.6" r="2.05"/><circle cx="575.7" cy="471.9" r="2.05"/><circle cx="572.1" cy="475.0" r="2.05"/><circle cx="622.1" cy="475.2" r="2.05"/><circle cx="626.6" cy="474.8" r="2.05"/><circle cx="595.7" cy="476.6" r="2.05"/><circle cx="656.5" cy="476.1" r="2.05"/><circle cx="589.0" cy="479.0" r="2.05"/><circle cx="614.6" cy="478.6" r="2.05"/><circle cx="615.9" cy="481.9" r="2.05"/><circle cx="580.9" cy="482.8" r="2.05"/><circle cx="658.1" cy="480.4" r="2.05"/><circle cx="654.0" cy="484.6" r="2.05"/><circle cx="656.8" cy="485.8" r="2.05"/><circle cx="666.7" cy="429.4" r="2.05"/><circle cx="687.7" cy="435.5" r="2.05"/><circle cx="664.8" cy="443.3" r="2.05"/><circle cx="666.8" cy="441.6" r="2.05"/><circle cx="677.4" cy="446.5" r="2.05"/><circle cx="669.3" cy="451.6" r="2.05"/><circle cx="664.8" cy="456.2" r="2.05"/><circle cx="672.9" cy="456.2" r="2.05"/><circle cx="672.9" cy="457.5" r="2.05"/><circle cx="677.4" cy="465.5" r="2.05"/><circle cx="662.8" cy="465.2" r="2.05"/><circle cx="672.0" cy="466.9" r="2.05"/><circle cx="662.2" cy="470.7" r="2.05"/><circle cx="669.3" cy="470.6" r="2.05"/><circle cx="666.7" cy="474.6" r="2.05"/><circle cx="662.2" cy="477.8" r="2.05"/><circle cx="672.0" cy="477.2" r="2.05"/><circle cx="675.1" cy="478.1" r="2.05"/><circle cx="672.0" cy="482.6" r="2.05"/><circle cx="623.7" cy="486.5" r="2.05"/><circle cx="617.5" cy="488.6" r="2.05"/><circle cx="598.5" cy="490.4" r="2.05"/><circle cx="580.9" cy="492.7" r="2.05"/><circle cx="615.6" cy="493.5" r="2.05"/><circle cx="620.1" cy="493.8" r="2.05"/><circle cx="624.6" cy="493.0" r="2.05"/><circle cx="622.1" cy="495.6" r="2.05"/><circle cx="626.6" cy="495.0" r="2.05"/><circle cx="641.0" cy="493.1" r="2.05"/><circle cx="654.9" cy="495.6" r="2.05"/><circle cx="659.4" cy="497.0" r="2.05"/><circle cx="590.9" cy="502.6" r="2.05"/><circle cx="639.2" cy="503.7" r="2.05"/><circle cx="597.6" cy="507.1" r="2.05"/><circle cx="604.7" cy="506.2" r="2.05"/><circle cx="607.5" cy="508.6" r="2.05"/><circle cx="616.3" cy="512.4" r="2.05"/><circle cx="639.2" cy="513.6" r="2.05"/><circle cx="588.2" cy="525.3" r="2.05"/><circle cx="590.1" cy="527.5" r="2.05"/><circle cx="644.8" cy="525.0" r="2.05"/><circle cx="619.9" cy="534.9" r="2.05"/><circle cx="672.2" cy="486.9" r="2.05"/><circle cx="673.8" cy="489.2" r="2.05"/><circle cx="663.2" cy="493.0" r="2.05"/><circle cx="666.4" cy="493.4" r="2.05"/><circle cx="682.1" cy="494.3" r="2.05"/><circle cx="676.5" cy="496.2" r="2.05"/><circle cx="677.6" cy="498.8" r="2.05"/><circle cx="666.4" cy="499.8" r="2.05"/><circle cx="661.9" cy="519.5" r="2.05"/><circle cx="663.0" cy="521.4" r="2.05"/><circle cx="680.2" cy="521.3" r="2.05"/><circle cx="662.8" cy="534.8" r="2.05"/>
</g>
</svg>
</body></html>
